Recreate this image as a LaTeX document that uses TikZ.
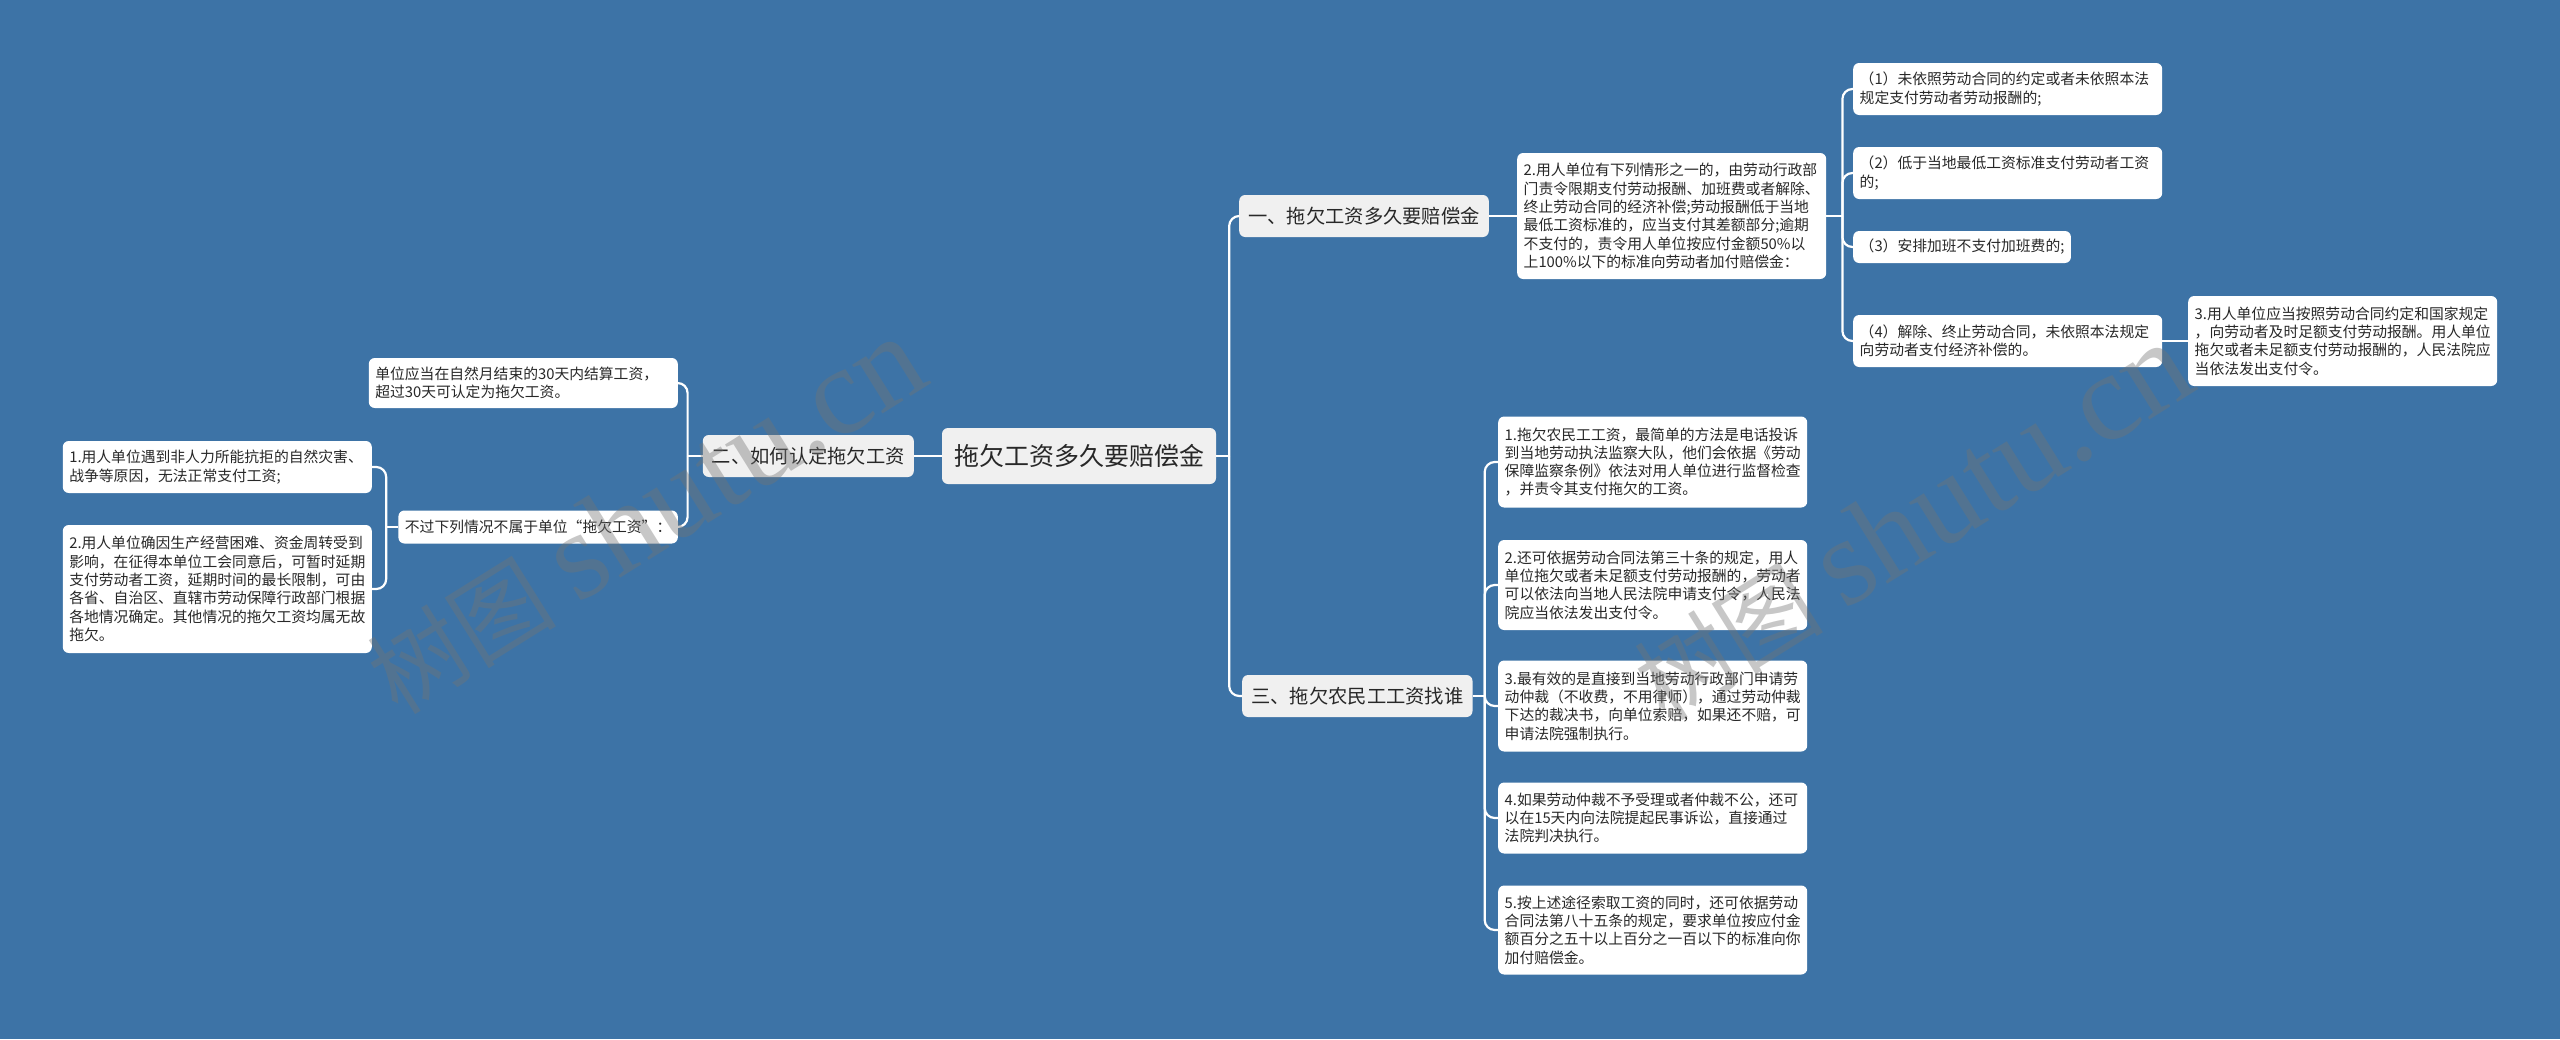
\documentclass[tikz,border=0pt]{standalone}
\usepackage{fontspec}
\setmainfont{Noto Sans CJK SC}
\newfontfamily\wmfont{Liberation Serif}
\definecolor{bgblue}{RGB}{61,115,166}
\definecolor{ink}{RGB}{40,40,40}
\definecolor{paper}{RGB}{240,240,240}

\begin{document}
\begin{tikzpicture}[
    x=1pt, y=-1pt,
    card/.style={rectangle, rounded corners=6pt, fill=white, text=ink, font=\fontsize{14.8}{18.3}\selectfont, inner xsep=6.5pt, inner ysep=0pt},
    leaf/.style={card, text width=296pt, align=left},
    topic/.style={rectangle, rounded corners=6pt, fill=paper, text=ink, font=\fontsize{25}{30}\selectfont, inner xsep=12pt, minimum height=56pt},
    branch/.style={topic, font=\fontsize{19.3}{23}\selectfont, inner xsep=9pt, minimum height=42pt},
    link/.style={draw=white, line width=2.2pt, rounded corners=10pt},
    wmark/.style={text=black!55, opacity=0.4, font=\fontsize{95}{110}\selectfont, rotate=32}
]

% Background
\fill[bgblue] (0,0) rectangle (2560,1039);
\useasboundingbox (0,0) rectangle (2560,1039);

% Central topic
\node[topic] (root) at (1079,456) {拖欠工资多久要赔偿金};

% Main branches
\node[branch, anchor=west] (one)   at (1239,216) {一、拖欠工资多久要赔偿金};
\node[branch, anchor=east] (two)   at (914,456)  {二、如何认定拖欠工资};
\node[branch, anchor=west] (three) at (1242,696) {三、拖欠农民工工资找谁};

% Branch one
\node[leaf, anchor=west, minimum height=126pt] (a2) at (1517,216) {2.用人单位有下列情形之一的，由劳动行政部\\门责令限期支付劳动报酬、加班费或者解除、\\终止劳动合同的经济补偿;劳动报酬低于当地\\最低工资标准的，应当支付其差额部分;逾期\\不支付的，责令用人单位按应付金额50\%以\\上100\%以下的标准向劳动者加付赔偿金：};
\node[leaf, anchor=west, minimum height=52pt] (a21) at (1853,89)  {（1）未依照劳动合同的约定或者未依照本法\\规定支付劳动者劳动报酬的;};
\node[leaf, anchor=west, minimum height=52pt] (a22) at (1853,173) {（2）低于当地最低工资标准支付劳动者工资\\的;};
\node[card, anchor=west, minimum height=32pt] (a23) at (1853,247) {（3）安排加班不支付加班费的;};
\node[leaf, anchor=west, minimum height=52pt] (a24) at (1853,341) {（4）解除、终止劳动合同，未依照本法规定\\向劳动者支付经济补偿的。};
\node[leaf, anchor=west, minimum height=90pt] (a3) at (2188,341) {3.用人单位应当按照劳动合同约定和国家规定\\，向劳动者及时足额支付劳动报酬。用人单位\\拖欠或者未足额支付劳动报酬的，人民法院应\\当依法发出支付令。};

% Branch three
\node[leaf, anchor=west, minimum height=91pt] (b1) at (1498,462) {1.拖欠农民工工资，最简单的方法是电话投诉\\到当地劳动执法监察大队，他们会依据《劳动\\保障监察条例》依法对用人单位进行监督检查\\，并责令其支付拖欠的工资。};
\node[leaf, anchor=west, minimum height=90pt] (b2) at (1498,585) {2.还可依据劳动合同法第三十条的规定，用人\\单位拖欠或者未足额支付劳动报酬的，劳动者\\可以依法向当地人民法院申请支付令，人民法\\院应当依法发出支付令。};
\node[leaf, anchor=west, minimum height=91pt] (b3) at (1498,706) {3.最有效的是直接到当地劳动行政部门申请劳\\动仲裁（不收费，不用律师），通过劳动仲裁\\下达的裁决书，向单位索赔，如果还不赔，可\\申请法院强制执行。};
\node[leaf, anchor=west, minimum height=71pt] (b4) at (1498,818) {4.如果劳动仲裁不予受理或者仲裁不公，还可\\以在15天内向法院提起民事诉讼，直接通过\\法院判决执行。};
\node[leaf, anchor=west, minimum height=89pt] (b5) at (1498,930) {5.按上述途径索取工资的同时，还可依据劳动\\合同法第八十五条的规定，要求单位按应付金\\额百分之五十以上百分之一百以下的标准向你\\加付赔偿金。};

% Branch two
\node[leaf, anchor=east, minimum height=50pt] (c0) at (678,383) {单位应当在自然月结束的30天内结算工资，\\超过30天可认定为拖欠工资。};
\node[card, anchor=east, minimum height=33pt] (c1) at (678,527) {不过下列情况不属于单位“拖欠工资”：};
\node[leaf, anchor=east, minimum height=52pt] (c11) at (372,467) {1.用人单位遇到非人力所能抗拒的自然灾害、\\战争等原因，无法正常支付工资;};
\node[leaf, anchor=east, minimum height=128pt] (c12) at (372,589) {2.用人单位确因生产经营困难、资金周转受到\\影响，在征得本单位工会同意后，可暂时延期\\支付劳动者工资，延期时间的最长限制，可由\\各省、自治区、直辖市劳动保障行政部门根据\\各地情况确定。其他情况的拖欠工资均属无故\\拖欠。};

% Root connections
\draw[link] (root.east) -- ++(13,0) coordinate (rootR);
\draw[link] (rootR) |- (one.west);
\draw[link] (rootR) |- (three.west);
\draw[link] (root.west) -- (two.east);

% Branch one connections
\draw[link] (one.east) -- (a2.west);
\draw[link] (a2.east) -- ++(16,0) coordinate (a2R);
\foreach \k in {1,...,4}{
    \draw[link] (a2R) |- (a2\k.west);
}
\draw[link] (a24.east) -- (a3.west);

% Branch three connections
\draw[link] (three.east) -- ++(12,0) coordinate (threeR);
\foreach \k in {1,...,5}{
    \draw[link] (threeR) |- (b\k.west);
}

% Branch two connections
\draw[link] (two.west) -- ++(-15,0) coordinate (twoL);
\draw[link] (twoL) |- (c0.east);
\draw[link] (twoL) |- (c1.east);
\draw[link] (c1.west) -- ++(-12,0) coordinate (c1L);
\draw[link] (c1L) |- (c11.east);
\draw[link] (c1L) |- (c12.east);

% Watermarks
\node[wmark] (wm1) at (645,516)  {树图 {\wmfont\fontsize{125}{130}\selectfont shutu.cn}};
\node[wmark] (wm2) at (1912,522) {树图 {\wmfont\fontsize{125}{130}\selectfont shutu.cn}};

\end{tikzpicture}
\end{document}
